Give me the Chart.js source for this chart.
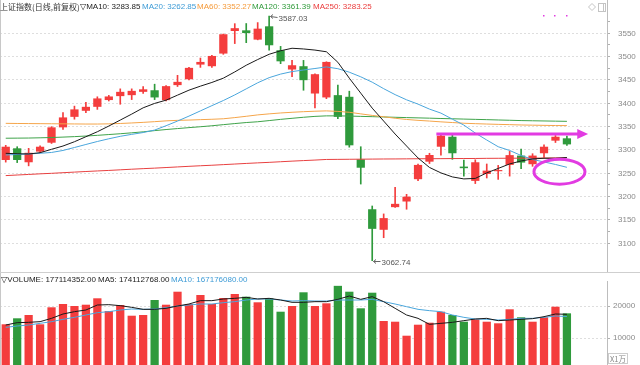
<!DOCTYPE html>
<html><head><meta charset="utf-8">
<script src="https://cdn.jsdelivr.net/npm/chart.js@4/dist/chart.umd.min.js"></script>
<style>
html,body{margin:0;padding:0;background:#fff;width:640px;height:365px;overflow:hidden;}
#wrap{position:relative;width:640px;height:365px;}
canvas{position:absolute;left:0;}
#pc{top:0}
#vc{top:273px}
.lg{position:absolute;font-family:"Liberation Sans",Arial,"DejaVu Sans",sans-serif;font-size:8px;white-space:nowrap;line-height:11px;}
</style></head>
<body><div id="wrap">
<canvas id="pc" width="640" height="273"></canvas>
<canvas id="vc" width="640" height="92"></canvas>
<span class="lg" style="left:0;top:1px;color:#333;font-family:'Noto Sans CJK SC',sans-serif;font-size:8px">上证指数(日线,前复权)</span>
<span class="lg" style="left:80px;top:1px;color:#222">▽MA10: 3283.85</span>
<span class="lg" style="left:142px;top:1px;color:#3d9bd6">MA20: 3262.85</span>
<span class="lg" style="left:197px;top:1px;color:#f59a3a">MA60: 3352.27</span>
<span class="lg" style="left:252px;top:1px;color:#2f9a3a">MA120: 3361.39</span>
<span class="lg" style="left:313px;top:1px;color:#ea3a3a">MA250: 3283.25</span>
<span class="lg" style="left:1px;top:274px;color:#222">▽VOLUME: 177114352.00</span>
<span class="lg" style="left:98px;top:274px;color:#222">MA5: 174112768.00</span>
<span class="lg" style="left:171px;top:274px;color:#3d9bd6">MA10: 167176080.00</span>
<span class="lg" style="left:608px;top:353px;color:#888;font-family:'Noto Sans CJK SC',sans-serif;font-size:7.5px;line-height:9px;border:1px solid #ccc;padding:0 1px">X1万</span>
</div>
<script>
const categories = ['1','2','3','4','5','6','7','8','9','10','11','12','13','14','15','16','17','18','19','20','21','22','23','24','25','26','27','28','29','30','31','32','33','34','35','36','37','38','39','40','41','42','43','44','45','46','47','48','49','50','','',''];
const opens  = [3278.6,3303.6,3273.7,3296.5,3315.6,3348.5,3371,3384,3392.5,3407,3415.4,3417.5,3424.6,3428,3406.8,3439,3451.5,3483,3479.5,3506.6,3555,3556.4,3536.5,3565,3513.7,3472.4,3479.5,3421,3412.6,3417.5,3414,3280,3173,3129,3177.5,3189.6,3237.4,3275,3307,3328.4,3264.4,3233.8,3248.7,3254.5,3268,3288,3269.5,3293,3320,3325];
const highs  = [3310,3307,3303.6,3309,3350,3380,3394,3402,3414,3417,3431,3431,3436,3441,3438,3460,3477,3497,3503,3548.5,3570.7,3571,3573,3587.03,3522,3492,3492,3463,3489,3439,3426,3307,3180,3163,3220,3205,3270,3293,3333,3333,3278.6,3279,3270,3267,3297,3302,3292,3311,3331,3330];
const lows   = [3274,3273,3266,3295,3314,3344,3366,3380,3387,3405,3398,3408,3421,3408,3405,3436,3450,3477,3477,3505,3528,3530,3536,3513.7,3485,3457,3428,3390,3410,3367,3306,3227,3062.74,3112,3177,3173,3234,3271,3289,3280,3244,3228,3240,3237,3244,3260,3265,3284,3316,3310];
const closes = [3307,3278.6,3294,3307,3348.5,3369.8,3387,3392.5,3410.5,3414.7,3424.6,3426.7,3430,3412.6,3436.8,3446,3476,3488.7,3501.5,3548,3561,3550.6,3560,3524.4,3490,3481.6,3449.6,3462.4,3488.7,3371,3310,3262,3131,3154,3184.6,3200,3268,3289.3,3330.6,3293,3261,3273.7,3255.8,3257,3289,3273,3288,3307,3328.4,3312];
const ma10   = [3292.9,3291.9,3291.5,3294.2,3301.5,3308.5,3317.7,3328.4,3339.1,3351.3,3364.1,3376.9,3390.4,3399.8,3406.8,3417.5,3428.2,3436.8,3444.7,3453.9,3467.3,3481.6,3493.8,3505.1,3512.6,3518.0,3516.5,3514.1,3510.5,3488.0,3453.9,3421.8,3389.7,3362.0,3334.2,3308.5,3282.9,3262.6,3250.9,3242.3,3238.0,3239.1,3250.9,3260.5,3270.1,3276.5,3280.8,3282.3,3282.3,3283.85];
const ma20   = [3289.3,3290.4,3291.5,3293,3294.7,3299,3305.3,3311.8,3318.2,3324,3329.3,3333.5,3337.4,3342.7,3352,3362,3372.6,3383.8,3395,3406,3418,3431,3444,3455,3462.6,3468,3471.4,3474.6,3478,3474.2,3466.7,3456.8,3445.3,3431.4,3418.6,3407.5,3398.3,3387.6,3379,3366,3353.4,3336.3,3321.4,3307,3299,3288.2,3279.7,3274.4,3269,3262.85];
const ma60   = [3357.1,3356.8,3356.6,3356.4,3356.2,3356,3355.8,3355.6,3355.6,3356,3356.8,3357.9,3359.2,3360.7,3362.4,3363.5,3364.1,3365,3365.8,3366.9,3369.4,3372.2,3375.2,3377.4,3379.3,3380.8,3382.1,3383.1,3383.8,3382.7,3380.8,3377.4,3374.1,3371.2,3368,3365.4,3363.5,3362,3360.3,3358.8,3357.3,3356.4,3355.6,3354.9,3354.3,3353.6,3353.2,3352.8,3352.4,3352.27];
const ma120  = [3325.2,3325.4,3325.6,3326.1,3326.7,3327.6,3328.6,3329.9,3331.4,3333.1,3334.8,3336.8,3338.9,3341.5,3343.8,3345.9,3347.9,3349.8,3351.9,3354.3,3356.6,3358.8,3360.5,3363,3365.6,3367.9,3370.1,3372,3373.1,3373.1,3372.7,3372,3371.4,3370.7,3370.1,3369.4,3368.8,3368.2,3367.5,3366.9,3366.2,3365.6,3365,3364.3,3363.7,3363,3362.6,3362.2,3361.8,3361.39];
const ma250  = [3245.1,3246.4,3247.6,3248.9,3250,3251.3,3252.6,3253.9,3255.1,3256.2,3257.5,3258.8,3260,3261.1,3262.4,3263.7,3265,3266.2,3267.3,3268.6,3269.9,3271.2,3272.4,3273.5,3274.8,3276.1,3277.3,3278.4,3279.7,3279.9,3280.1,3280.3,3280.5,3280.7,3280.8,3281,3281.2,3281.3,3281.4,3281.6,3281.7,3281.8,3282.1,3282.2,3282.3,3282.5,3282.6,3282.7,3282.9,3283.25];
const volumes = [14281,16156,17187,14281,19593,20624,20000,20406,22406,18437,20312,16968,17187,21874,20406,24468,20624,23437,20624,22499,23749,22906,21156,22406,18218,20000,24281,20000,20843,26300,24468,19281,24156,15312,15093,10718,14156,14781,18218,17187,15093,15843,15093,14593,18968,16468,15093,16468,19781,17711];
const volMa5  = [14062,14791,14895,15104,16145,17499,18229,18749,20312,20416,20104,19583,18958,18958,19270,19999,20624,21666,21666,22187,22395,22708,22187,22395,21874,21145,21145,21354,21354,22083,23124,22083,22916,21354,19270,17187,16145,14270,14583,14895,15416,15937,16145,15416,15624,15833,16041,16666,17499,17411];
const volMa10 = [13333,13749,14062,14583,15104,15833,16458,17187,17916,18229,18749,19062,18958,19062,19479,19999,20312,20624,20624,21041,21354,21874,22187,22187,21874,21562,21666,21562,21562,21874,21874,21874,22083,21354,20624,19791,18958,18541,18229,17187,16458,15937,15833,15624,15833,16145,16145,16458,16874,16718];
const priceTicks = [3100,3150,3200,3250,3300,3350,3400,3450,3500,3550];
const priceMinorTicks = [3125,3175,3225,3275,3325,3375,3425,3475,3525,3575];
const volTicks = [10000,20000];

const RED = '#f43d3d', GREEN = '#2f9a3c', BLUE = '#4aa6dc', MAGENTA = '#e23be2';
const candleColors = closes.map((c, i) => c >= opens[i] ? RED : GREEN);
const FONT = {family: "'Liberation Sans', Arial, sans-serif", size: 8};

function lineDs(data, color, order) {
  return {type: 'line', data, borderColor: color, borderWidth: 1, pointRadius: 0, tension: 0, fill: false, order};
}

const framePlugin = {
  id: 'frame',
  afterDraw(chart) {
    const ctx = chart.ctx;
    ctx.save();
    ctx.strokeStyle = '#c8c8c8';
    ctx.lineWidth = 1;
    ctx.beginPath();
    ctx.moveTo(0.5, 0); ctx.lineTo(0.5, chart.height);
    ctx.stroke();
    ctx.restore();
  }
};

const annotPlugin = {
  id: 'annot',
  afterDraw(chart) {
    const ctx = chart.ctx, xs = chart.scales.x, ys = chart.scales.y;
    ctx.save();
    ctx.strokeStyle = '#cfcfcf'; ctx.lineWidth = 1;
    ctx.beginPath(); ctx.moveTo(0, 272.5); ctx.lineTo(640, 272.5); ctx.stroke();
    ctx.strokeStyle = '#666'; ctx.fillStyle = '#555';
    ctx.font = "8px 'Liberation Sans', Arial, sans-serif";
    ctx.textBaseline = 'middle'; ctx.textAlign = 'left';
    const iHi = highs.indexOf(Math.max(...highs));
    const iLo = lows.indexOf(Math.min(...lows));
    [[iHi, highs[iHi], 2], [iLo, lows[iLo], 1]].forEach(([i, v, dy]) => {
      const x = Math.round(xs.getPixelForValue(i)) + 0.5, y = Math.round(ys.getPixelForValue(v)) + 0.5;
      ctx.beginPath();
      ctx.moveTo(x + 1, y); ctx.lineTo(x + 8, y + dy - 1);
      ctx.moveTo(x + 1, y); ctx.lineTo(x + 3.5, y - 2);
      ctx.moveTo(x + 1, y); ctx.lineTo(x + 3.5, y + 2);
      ctx.stroke();
      ctx.fillText(v.toFixed(2), x + 9, y + dy);
    });
    ctx.strokeStyle = MAGENTA; ctx.fillStyle = MAGENTA; ctx.lineWidth = 3;
    const ay = ys.getPixelForValue(3334);
    const ax0 = xs.getPixelForValue(37.6), ax1 = xs.getPixelForValue(49.9), ax2 = xs.getPixelForValue(50.85);
    ctx.beginPath(); ctx.moveTo(ax0, ay); ctx.lineTo(ax1 + 1, ay); ctx.stroke();
    ctx.beginPath(); ctx.moveTo(ax1, ay - 5); ctx.lineTo(ax2, ay); ctx.lineTo(ax1, ay + 5); ctx.closePath(); ctx.fill();
    const ex = xs.getPixelForValue(48.35), ey = ys.getPixelForValue(3253.6);
    ctx.beginPath(); ctx.ellipse(ex, ey, 25.5, 12.5, 0, 0, Math.PI * 2); ctx.stroke();
    [46.9, 47.9, 48.9].forEach(i => {
      ctx.fillRect(Math.round(xs.getPixelForValue(i)), Math.round(ys.getPixelForValue(3590)), 1.5, 1.5);
    });
    ctx.strokeStyle = '#c4c4c4'; ctx.lineWidth = 1;
    ctx.beginPath(); ctx.moveTo(592, 3.5); ctx.lineTo(595.5, 7); ctx.lineTo(592, 10.5); ctx.lineTo(588.5, 7); ctx.closePath(); ctx.stroke();
    ctx.strokeRect(598.5, 3.5, 7, 8);
    ctx.beginPath(); ctx.moveTo(603.5, 3.5); ctx.lineTo(603.5, 11.5); ctx.stroke();
    ctx.restore();
  }
};

function yAxis(min, max, major, minor, pad) {
  const all = major.concat(minor).sort((a, b) => a - b);
  return {
    position: 'right', min, max,
    afterFit(s) { s.width = 33; s.paddingTop = 0; s.paddingBottom = 0; },
    afterBuildTicks(s) { s.ticks = all.map(v => ({value: v})); },
    ticks: {
      autoSkip: false, font: FONT, color: '#8a8a8a', padding: pad, crossAlign: 'near',
      callback: v => major.includes(v) ? String(v) : ''
    },
    grid: {
      color: c => (c.tick && major.includes(c.tick.value)) ? '#dedede' : 'rgba(0,0,0,0)',
      tickColor: '#b0b0b0', tickLength: 3, drawTicks: true, lineWidth: 1
    },
    border: {display: true, color: '#bdbdbd', dash: [2, 2]}
  };
}

new Chart(document.getElementById('pc'), {
  type: 'bar',
  data: {
    labels: categories,
    datasets: [
      lineDs(ma10, '#1a1a1a', 0),
      lineDs(ma20, BLUE, 1),
      lineDs(ma60, '#f5a54a', 2),
      lineDs(ma120, '#3fa34a', 3),
      lineDs(ma250, '#e84040', 4),
      {label: 'body', data: opens.map((o, i) => [o, closes[i]]), backgroundColor: candleColors,
       barPercentage: 0.72, categoryPercentage: 1, grouped: false, minBarLength: 1, order: 5},
      {label: 'wick', data: lows.map((l, i) => [l, highs[i]]), backgroundColor: candleColors,
       barThickness: 1, grouped: false, order: 6}
    ]
  },
  options: {
    responsive: false, animation: false, devicePixelRatio: 1,
    layout: {padding: 0},
    plugins: {legend: {display: false}, tooltip: {enabled: false}},
    scales: {
      x: {display: false, offset: true},
      y: yAxis(3036.4, 3621.4, priceTicks, priceMinorTicks, 8)
    }
  },
  plugins: [framePlugin, annotPlugin]
});

new Chart(document.getElementById('vc'), {
  type: 'bar',
  data: {
    labels: categories,
    datasets: [
      lineDs(volMa5, '#1a1a1a', 0),
      lineDs(volMa10, BLUE, 1),
      {label: 'vol', data: volumes, backgroundColor: candleColors, barPercentage: 0.72, categoryPercentage: 1, order: 2}
    ]
  },
  options: {
    responsive: false, animation: false, devicePixelRatio: 1,
    layout: {padding: {top: 8}},
    plugins: {legend: {display: false}, tooltip: {enabled: false}},
    scales: {
      x: {display: false, offset: true},
      y: yAxis(1562.5, 27812.5, volTicks, [], 3)
    }
  },
  plugins: [framePlugin]
});
</script>
</body></html>
